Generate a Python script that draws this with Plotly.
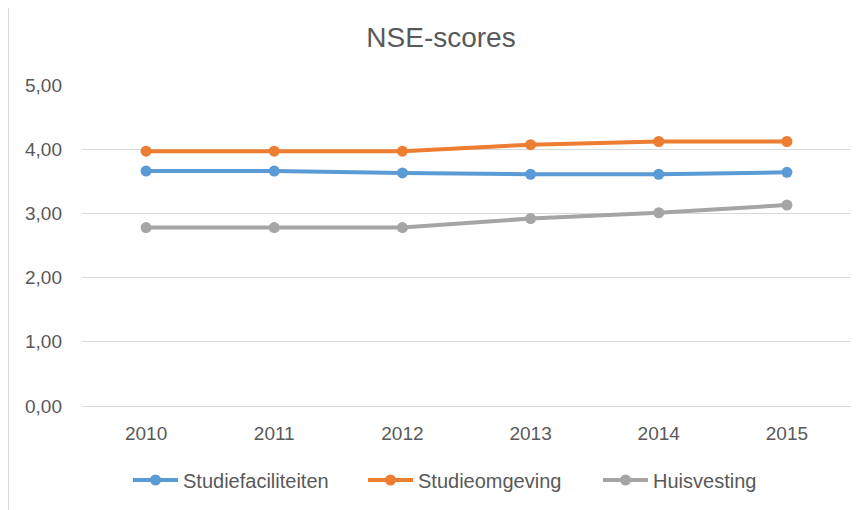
import plotly.graph_objects as go

# ---- data ---------------------------------------------------------------------

years = ["2010", "2011", "2012", "2013", "2014", "2015"]
studiefaciliteiten = [3.66, 3.66, 3.63, 3.61, 3.61, 3.64]
studieomgeving = [3.97, 3.97, 3.97, 4.07, 4.12, 4.12]
huisvesting = [2.78, 2.78, 2.78, 2.92, 3.01, 3.13]

series = [
    ("Studiefaciliteiten", studiefaciliteiten, "#5B9BD5"),
    ("Studieomgeving", studieomgeving, "#ED7D31"),
    ("Huisvesting", huisvesting, "#A5A5A5"),
]

FONT = "Liberation Sans, Arial, sans-serif"
TEXT = "#595959"
GRID = "#D9D9D9"

# page body adds an 8px margin, so the figure is a bit smaller than the window
W, H = 853, 502
ML, MR, MT, MB = 74, 10, 77, 104
plot_w = W - ML - MR
plot_h = H - MT - MB

fig = go.Figure()
for name, vals, colour in series:
    fig.add_trace(go.Scatter(
        x=years,
        y=vals,
        mode="lines+markers",
        name=name,
        line=dict(color=colour, width=4),
        marker=dict(color=colour, size=11),
    ))

fig.update_layout(
    width=W,
    height=H,
    margin=dict(l=ML, r=MR, t=MT, b=MB),
    paper_bgcolor="white",
    plot_bgcolor="white",
    separators=",.",
    font=dict(family=FONT, color=TEXT, size=18),
    title=dict(
        text="NSE-scores",
        x=(441 - 8) / W, xanchor="center",
        y=1 - 29 / H, yanchor="middle",
        font=dict(family=FONT, size=28, color=TEXT),
    ),
    xaxis=dict(
        type="category",
        range=[-0.5, 5.5],
        showgrid=False,
        showline=False,
        zeroline=False,
        ticks="",
        ticklabelstandoff=14,
        tickfont=dict(size=19, color=TEXT),
    ),
    yaxis=dict(
        range=[0, 5],
        dtick=1,
        tickformat=".2f",
        gridcolor=GRID,
        gridwidth=1,
        zeroline=True,
        zerolinecolor=GRID,
        zerolinewidth=1,
        showline=False,
        ticks="",
        ticklabelstandoff=19,
        tickfont=dict(size=19, color=TEXT),
    ),
    legend=dict(
        orientation="h",
        x=(128 - 8 - ML) / plot_w, xanchor="left",
        y=-(472 - (H - MB)) / plot_h, yanchor="middle",
        font=dict(size=20, color=TEXT),
        itemwidth=45,
        entrywidth=175,
        entrywidthmode="pixels",
        tracegroupgap=0,
    ),
    shapes=[dict(
        type="line",
        xref="paper", yref="paper",
        x0=(0.5 - ML) / plot_w, x1=(0.5 - ML) / plot_w,
        y0=-MB / plot_h, y1=1 + MT / plot_h,
        line=dict(color="#D9D9D9", width=1),
    )],
)

fig.write_html("out.html")
